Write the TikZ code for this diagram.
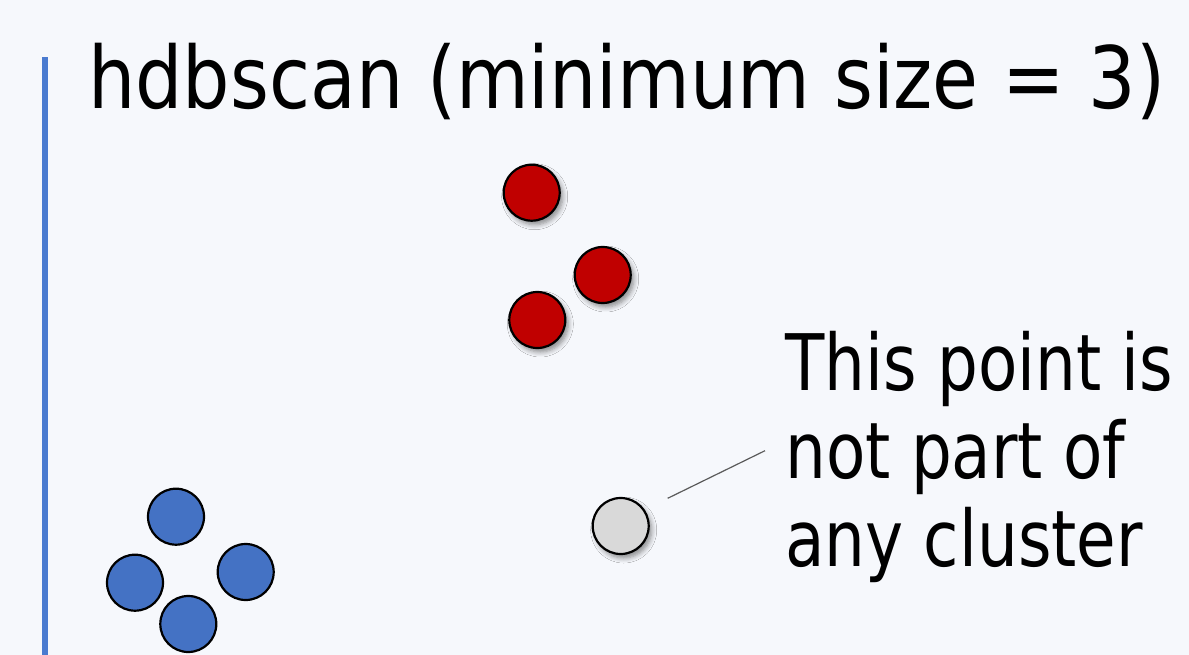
\documentclass[tikz,border=0pt]{standalone}
\usepackage{fontspec}
\setmainfont{DejaVu Sans}
\usetikzlibrary{shadows.blur}
\definecolor{bgc}{RGB}{246,248,252}
\definecolor{barc}{RGB}{74,123,208}
\definecolor{redc}{RGB}{192,0,0}
\definecolor{bluec}{RGB}{68,114,196}
\definecolor{grayc}{RGB}{217,217,217}
\definecolor{linec}{RGB}{90,90,90}
\begin{document}
\begin{tikzpicture}[x=1pt,y=-1pt,
  dot/.style={circle,draw=black,line width=2.2pt,minimum size=56pt,inner sep=0pt},
  shad/.style={blur shadow={shadow xshift=3pt,shadow yshift=-4pt,shadow blur radius=5pt,shadow blur steps=6,shadow opacity=45}},
  title/.style={anchor=base west,inner sep=0pt,font=\fontsize{86}{90}\selectfont},
  body/.style={anchor=base west,inner sep=0pt,font=\fontsize{78}{88}\selectfont}]
\fill[bgc] (0,0) rectangle (1189,655);
\useasboundingbox (0,0) rectangle (1189,655);
\fill[barc] (42.3,57.3) rectangle (48.3,655);
\node[title] (t) at (88,108.3) {\scalebox{0.868}[1]{hdbscan (minimum size = 3)}};
% red cluster
\node[dot,fill=redc,shad] (r1) at (531.7,192.7) {};
\node[dot,fill=redc,shad] (r2) at (602.7,275) {};
\node[dot,fill=redc,shad] (r3) at (537.3,320) {};
% blue cluster
\node[dot,fill=bluec] (b1) at (176,516.7) {};
\node[dot,fill=bluec] (b2) at (135,582.7) {};
\node[dot,fill=bluec] (b3) at (245.7,572) {};
\node[dot,fill=bluec] (b4) at (188.3,624) {};
% noise point
\node[dot,fill=grayc,shad] (g) at (620.7,526) {};
\node[body] (l1) at (785,390.7) {\scalebox{0.825}[1]{This point is}};
\node[body] (l2) at (785,478.5) {\scalebox{0.825}[1]{not part of}};
\node[body] (l3) at (785,566) {\scalebox{0.825}[1]{any cluster}};
\coordinate (ls) at (667.7,498.3);
\coordinate (le) at (765,450.7);
\draw[linec,line width=1.2pt] (ls) -- (le);
\end{tikzpicture}
\end{document}
